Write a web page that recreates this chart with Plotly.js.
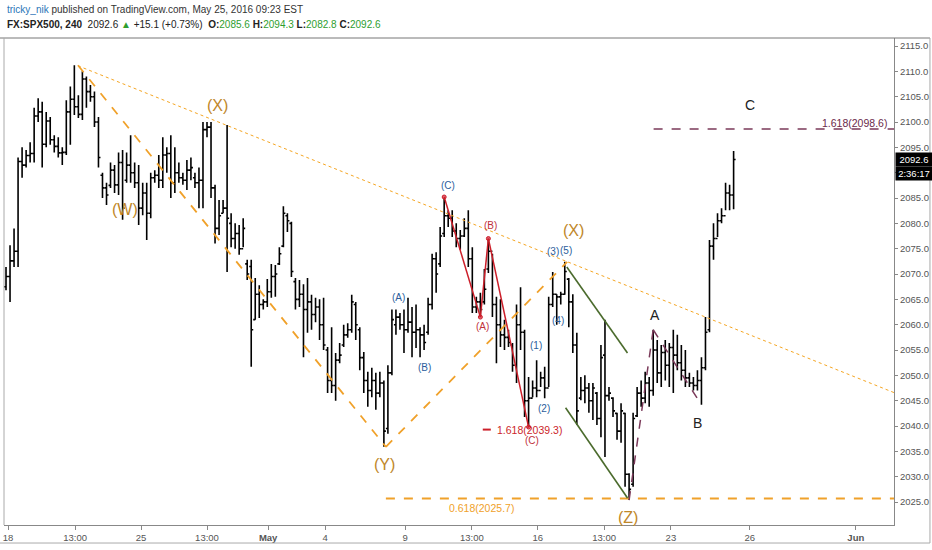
<!DOCTYPE html>
<html><head><meta charset="utf-8">
<script src="https://cdn.plot.ly/plotly-3.0.1.min.js"></script>
<style>html,body{margin:0;padding:0;background:#fff;}#chart{width:932px;height:550px;}</style>
</head><body><div id="chart"></div>
<script>
// ---- data: FX:SPX500 240-minute bars ----
const opens = [2067.5,2069.5,2072.6,2074.5,2092.2,2091.5,2093.4,2093.8,2101.2,2102.0,2095.6,2100.2,2096.5,2095.2,2093.9,2094.0,2102.0,2104.5,2103.0,2101.5,2108.5,2106.0,2105.0,2100.0,2089.5,2087.0,2087.5,2090.5,2087.6,2092.0,2088.5,2091.5,2090.0,2088.0,2083.0,2086.0,2082.0,2089.0,2089.5,2088.5,2093.5,2093.8,2088.0,2090.0,2089.0,2088.5,2090.5,2089.0,2088.0,2088.5,2098.5,2099.0,2087.0,2079.0,2082.0,2083.0,2080.0,2077.0,2078.0,2075.0,2072.0,2071.5,2061.0,2066.0,2064.0,2064.5,2066.5,2069.5,2072.0,2075.5,2081.5,2080.0,2068.5,2065.0,2066.0,2063.0,2064.5,2062.0,2063.5,2060.0,2055.0,2049.0,2048.0,2053.0,2056.0,2058.0,2059.0,2064.0,2059.0,2053.5,2049.0,2047.0,2049.0,2046.5,2048.5,2039.5,2050.5,2060.0,2061.5,2060.0,2059.0,2060.5,2058.5,2059.0,2058.0,2058.5,2064.0,2073.0,2072.0,2078.0,2081.5,2081.0,2078.5,2077.0,2077.5,2079.0,2073.0,2063.5,2064.5,2064.5,2071.0,2074.5,2064.0,2060.0,2058.0,2057.5,2056.0,2052.0,2060.0,2058.5,2045.0,2045.5,2047.5,2047.0,2049.5,2047.5,2064.0,2066.0,2065.5,2066.0,2069.0,2064.5,2056.0,2045.5,2047.0,2047.5,2045.0,2046.5,2041.5,2054.0,2046.0,2045.5,2042.5,2039.0,2042.5,2030.5,2028.5,2042.0,2046.5,2045.5,2048.5,2047.0,2055.0,2050.5,2054.5,2052.0,2055.5,2054.0,2052.5,2051.0,2049.5,2048.5,2048.0,2049.0,2051.5,2059.0,2075.5,2077.0,2080.5,2081.5,2086.0,2085.6];
const highs = [2071.4,2075.7,2079.0,2093.0,2095.0,2094.5,2096.0,2102.8,2104.7,2104.0,2102.0,2101.0,2097.4,2097.0,2095.0,2104.3,2107.0,2111.2,2105.3,2110.0,2109.0,2107.3,2106.0,2101.0,2090.0,2088.0,2092.0,2091.5,2094.0,2094.5,2094.0,2097.4,2092.0,2091.5,2088.0,2088.0,2090.0,2090.5,2093.5,2097.0,2095.0,2097.4,2095.0,2092.0,2090.0,2092.5,2093.0,2090.0,2091.0,2100.0,2100.0,2100.0,2087.6,2084.6,2084.6,2099.4,2082.0,2080.0,2079.7,2081.0,2072.8,2072.8,2069.2,2067.8,2065.0,2069.0,2072.0,2071.8,2075.3,2083.4,2082.0,2080.3,2069.2,2068.8,2068.0,2069.2,2065.9,2065.3,2065.0,2065.3,2055.6,2059.5,2054.4,2056.4,2060.0,2060.3,2065.9,2064.5,2059.5,2054.6,2050.7,2051.5,2050.5,2050.7,2049.0,2052.0,2063.0,2063.0,2062.3,2063.0,2065.3,2063.5,2064.0,2059.5,2060.0,2065.3,2074.0,2074.3,2079.3,2085.2,2082.6,2082.6,2080.0,2078.7,2081.0,2082.6,2075.3,2065.5,2066.3,2071.0,2077.0,2074.0,2065.5,2065.0,2061.0,2059.0,2056.4,2064.0,2067.4,2059.0,2049.7,2049.0,2053.0,2050.7,2051.7,2065.5,2070.4,2066.0,2066.5,2072.4,2069.2,2066.0,2058.4,2049.7,2050.0,2048.5,2048.5,2046.7,2056.0,2061.0,2047.7,2045.7,2042.6,2044.5,2042.6,2030.7,2042.6,2047.7,2049.0,2050.7,2049.7,2059.0,2057.0,2056.0,2057.0,2056.4,2059.0,2058.0,2056.0,2055.0,2050.5,2049.7,2051.0,2053.6,2061.5,2076.7,2080.0,2082.0,2083.0,2088.0,2087.6,2094.3];
const lows = [2066.8,2064.5,2071.4,2071.4,2089.0,2091.0,2092.0,2092.0,2100.0,2091.0,2095.0,2095.5,2094.0,2093.0,2091.5,2093.5,2095.5,2101.4,2100.8,2100.4,2102.8,2104.0,2099.0,2091.0,2085.0,2083.6,2087.0,2086.0,2085.6,2080.7,2088.0,2088.0,2087.0,2079.7,2081.6,2076.7,2081.0,2088.0,2087.0,2087.0,2090.0,2085.0,2086.0,2088.0,2087.6,2086.6,2088.5,2087.0,2083.0,2083.0,2097.0,2085.0,2076.0,2077.7,2082.0,2070.4,2075.3,2075.0,2073.8,2075.3,2068.8,2051.7,2061.0,2061.3,2063.0,2063.5,2065.3,2065.5,2071.8,2075.3,2078.3,2069.4,2063.0,2063.5,2053.6,2058.4,2059.0,2060.5,2057.0,2055.0,2046.5,2046.5,2045.0,2052.4,2055.6,2057.4,2058.4,2057.0,2051.0,2046.5,2043.8,2045.7,2043.2,2045.7,2035.9,2038.5,2050.0,2058.0,2059.0,2054.4,2058.4,2053.6,2055.4,2053.6,2055.0,2058.0,2063.0,2066.3,2071.4,2077.3,2079.3,2077.3,2075.3,2074.8,2077.3,2071.4,2062.3,2062.3,2061.5,2064.0,2070.2,2061.5,2052.4,2055.6,2055.0,2055.6,2050.7,2048.5,2055.0,2041.8,2039.8,2045.7,2045.7,2047.7,2045.5,2047.7,2063.5,2060.0,2064.0,2065.9,2059.5,2054.4,2040.2,2045.1,2044.5,2042.6,2041.2,2040.2,2037.8,2033.9,2045.0,2041.8,2037.3,2036.7,2028.0,2025.4,2028.0,2041.8,2043.8,2044.5,2043.8,2046.0,2048.5,2047.7,2049.0,2047.7,2046.5,2051.0,2049.0,2047.7,2047.7,2047.0,2047.0,2044.2,2051.0,2058.5,2072.8,2077.3,2080.0,2082.6,2082.6,2082.8];
const closes = [2069.5,2072.6,2074.5,2092.2,2091.5,2093.4,2093.8,2101.2,2102.0,2095.6,2100.2,2096.5,2095.2,2093.9,2094.0,2102.0,2104.5,2103.0,2101.5,2108.5,2106.0,2105.0,2100.0,2093.0,2087.0,2085.6,2090.5,2087.6,2092.0,2083.0,2091.5,2090.0,2088.0,2083.0,2086.0,2082.0,2089.0,2089.5,2088.5,2093.5,2093.8,2088.0,2090.0,2089.0,2088.5,2090.5,2091.0,2088.0,2088.5,2098.5,2099.0,2087.0,2079.0,2081.5,2083.0,2081.0,2077.0,2078.0,2075.0,2079.0,2070.0,2059.0,2066.0,2064.0,2064.5,2066.5,2069.5,2070.0,2074.0,2082.0,2080.5,2070.5,2065.0,2066.0,2063.0,2064.5,2062.0,2063.5,2060.0,2056.0,2049.0,2048.0,2053.0,2054.0,2058.0,2059.0,2064.5,2060.0,2053.5,2049.0,2047.0,2049.0,2046.5,2048.5,2039.0,2050.5,2061.0,2061.5,2060.0,2059.0,2060.5,2058.5,2059.0,2058.0,2056.5,2064.0,2073.0,2070.0,2077.5,2081.5,2081.0,2078.5,2077.0,2077.5,2079.0,2073.0,2063.5,2064.5,2063.0,2067.0,2074.5,2064.0,2060.0,2058.0,2057.5,2056.5,2052.0,2060.0,2058.5,2045.0,2045.5,2047.5,2047.0,2049.5,2047.5,2064.0,2066.0,2065.5,2066.0,2070.5,2064.5,2056.0,2043.0,2047.0,2047.5,2045.0,2047.5,2041.5,2053.5,2046.0,2046.5,2043.0,2039.0,2043.0,2030.5,2027.5,2041.5,2046.5,2045.5,2048.5,2047.0,2055.0,2050.5,2054.5,2052.0,2055.5,2054.0,2052.5,2051.0,2049.5,2048.5,2048.0,2049.0,2051.5,2058.5,2075.5,2077.0,2080.5,2081.5,2086.0,2085.6,2092.6];

// x-axis tick labels (session starts, by bar position)
const tickIdx  = [0.5, 17.2, 33.6, 50, 65.2, 79.4, 99.3, 115.9, 132.3, 148.8, 165.4, 185, 211.4];
const tickText = ['18','13:00','25','13:00','<b>May</b>','4','9','13:00','16','13:00','23','26','<b>Jun</b>'];

// Elliott-wave pivots (bar index into the arrays above)
const wxyPivots   = [17, 94, 139];      // top high, (Y) low, (X) high
const redPivots   = [109, 118, 120, 130];
const abPivots    = [155, 161, 173];    // (Z) low, A high, B low
const fib0618 = 2025.7, fib1618red = 2039.3, fib1618up = 2098.6;
const lastPrice = 2092.6;

const bars = closes.map((_, i) => i);
const XMAX = 220.9, XMIN = -0.5;

const ORANGE = '#f0a12a', WAVE = '#c08729', BLUE = '#2b5d9c', RED = '#cc1f2a', GREEN = '#4b6b2d', MAROON = '#7b3a5a';
const NARROW = 'Liberation Sans, Arial, sans-serif';

const trace = {
  type: 'ohlc', x: bars, open: opens, high: highs, low: lows, close: closes,
  increasing: {line: {color: '#000', width: 1.6}},
  decreasing: {line: {color: '#000', width: 1.6}},
  tickwidth: 0.5, hoverinfo: 'skip', showlegend: false
};

const hi = i => highs[i], lo = i => lows[i];
const shapes = [];
function seg(x0, y0, x1, y1, color, width, dash) {
  shapes.push({type: 'line', xref: 'x', yref: 'y', x0, y0, x1, y1, line: {color, width, dash}});
}
// dotted trend line from the top
seg(wxyPivots[0] + 0.9, hi(wxyPivots[0]) - 0.1, XMAX, 2046.6, '#f5a623', 1, 'dot');
// W-X-Y / X dashed
seg(wxyPivots[0] + 0.9, hi(wxyPivots[0]), wxyPivots[1] + 0.5, lo(wxyPivots[1]), ORANGE, 1.8, 'dash');
seg(wxyPivots[1] + 0.5, lo(wxyPivots[1]), wxyPivots[2] + 0.6, hi(wxyPivots[2]), ORANGE, 1.8, 'dash');
// 0.618 level
seg(wxyPivots[1] + 0.5, fib0618, XMAX, fib0618, ORANGE, 2, 'dash');
// red ABC
const rp = [[redPivots[0], hi(redPivots[0])], [redPivots[1], lo(redPivots[1])], [redPivots[2], hi(redPivots[2])], [redPivots[3], lo(redPivots[3])]];
for (let k = 0; k < rp.length - 1; k++) seg(rp[k][0], rp[k][1], rp[k+1][0], rp[k+1][1], RED, 1.5, 'solid');
seg(118.6, fib1618red, 120.6, fib1618red, RED, 2, 'solid');
// green channel
seg(139.5, 2071.4, 154.6, 2054.4, GREEN, 1.6, 'solid');
seg(139.2, 2043.6, 154.6, 2025.8, GREEN, 1.6, 'solid');
// maroon A-B dashed
seg(abPivots[0], lo(abPivots[0]), abPivots[1], hi(abPivots[1]), MAROON, 1.5, 'dash');
seg(abPivots[1], hi(abPivots[1]), abPivots[2], lo(abPivots[2]), MAROON, 1.5, 'dash');
// 1.618 upper target
seg(161.1, fib1618up, XMAX, fib1618up, MAROON, 1.5, 'dash');
// frame lines
shapes.push({type:'line', xref:'paper', yref:'paper', x0:-0.0045, x1:1.0404, y0:1, y1:1, line:{color:'#777', width:1}});
shapes.push({type:'line', xref:'paper', yref:'paper', x0:0, x1:0, y0:0, y1:1, line:{color:'#aaa', width:1}});
shapes.push({type:'line', xref:'paper', yref:'paper', x0:1.0404, x1:1.0404, y0:-0.037, y1:1, line:{color:'#aaa', width:1}});
shapes.push({type:'line', xref:'paper', yref:'paper', x0:-0.0045, x1:1.0404, y0:-0.037, y1:-0.037, line:{color:'#aaa', width:1}});
// red vertex dots
const dots = {type:'scatter', mode:'markers', x: rp.map(p=>p[0]), y: rp.map(p=>p[1]), marker:{size:4, color:'#e06070', line:{color:RED, width:1}}, hoverinfo:'skip', showlegend:false};

const ann = [];
function lab(x, y, text, color, size, extra) {
  ann.push(Object.assign({xref:'x', yref:'y', x, y, text, showarrow:false, font:{family:'Liberation Sans, Arial, sans-serif', size, color}}, extra||{}));
}
lab(29.6, 2082.8, '(W)', WAVE, 16);
lab(52.5, 2103.2, '(X)', WAVE, 16);
lab(94.2, 2032.5, '(Y)', WAVE, 16);
lab(141.2, 2078.6, '(X)', WAVE, 16);
lab(154.7, 2022.0, '(Z)', WAVE, 16);
lab(109.9, 2087.4, '(C)', BLUE, 10);
lab(97.7, 2065.3, '(A)', BLUE, 10);
lab(104.2, 2051.5, '(B)', BLUE, 10);
lab(136.0, 2074.5, '(3)', BLUE, 10);
lab(139.4, 2074.7, '(5)', BLUE, 10);
lab(137.2, 2060.9, '(4)', BLUE, 10);
lab(131.8, 2055.8, '(1)', BLUE, 10);
lab(133.8, 2043.4, '(2)', BLUE, 10);
lab(120.6, 2079.5, '(B)', '#c0303a', 10);
lab(118.6, 2059.7, '(A)', '#c0303a', 10);
lab(130.8, 2037.2, '(C)', '#c0303a', 10);
lab(161.4, 2061.9, 'A', '#222', 14);
lab(172.1, 2040.6, 'B', '#222', 14);
lab(185.0, 2103.4, 'C', '#222', 14);
lab(121.6, fib1618red, '1.618(2039.3)', RED, 10.5, {xanchor:'left'});
lab(118.2, 2023.9, '0.618(2025.7)', ORANGE, 10.5);
lab(211.1, 2099.8, '1.618(2098.6)', '#6b2a4a', 10.5);
// price boxes on axis
ann.push({xref:'paper', yref:'y', x:1, y:lastPrice, xanchor:'left', xshift:1, width:36, height:13, text:'2092.6', showarrow:false, bgcolor:'#000', borderpad:0, font:{family:NARROW, size:9.5, color:'#fff'}});
ann.push({xref:'paper', yref:'y', x:1, y:2089.8, xanchor:'left', xshift:1, width:36, height:13, text:'2:36:17', showarrow:false, bgcolor:'#000', borderpad:0, font:{family:NARROW, size:9.5, color:'#fff'}});
// header
const G = '#2e9e2e';
ann.push({xref:'paper', yref:'paper', x:0.001, y:1.0575, xanchor:'left', yanchor:'middle', showarrow:false, align:'left',
  text:"<span style='color:#2a76b8'>tricky_nik</span> published on TradingView.com, May 25, 2016 09:23 EST",
  font:{family:NARROW, size:10, color:'#333'}});
ann.push({xref:'paper', yref:'paper', x:0.001, y:1.027, xanchor:'left', yanchor:'middle', showarrow:false, align:'left',
  text:"<b>FX:SPX500, 240</b>  2092.6 <span style='color:"+G+"'>▲</span> +15.1 (+0.73%)  <b>O:</b><span style='color:"+G+"'>2085.6</span> <b>H:</b><span style='color:"+G+"'>2094.3</span> <b>L:</b><span style='color:"+G+"'>2082.8</span> <b>C:</b><span style='color:"+G+"'>2092.6</span>",
  font:{family:NARROW, size:10, color:'#222'}});

const layout = {
  width: 932, height: 550,
  margin: {l: 4, r: 38, t: 38, b: 25},
  paper_bgcolor: '#fff', plot_bgcolor: '#fff',
  showlegend: false,
  xaxis: {type:'linear', range:[XMIN, XMAX], tickvals: tickIdx, ticktext: tickText, showgrid:false, zeroline:false,
    showline:true, linecolor:'#888', linewidth:1, ticks:'outside', ticklen:4, tickcolor:'#888',
    tickfont:{family:NARROW, size:9.5, color:'#555'},
    rangeslider:{visible:false}, fixedrange:true},
  yaxis: {side:'right', range:[2020.47, 2116.58], tickmode:'linear', tick0:2025, dtick:5, tickformat:'.1f',
    showgrid:false, zeroline:false, showline:true, linecolor:'#888', linewidth:1, ticks:'outside', ticklen:3, tickcolor:'#888',
    tickfont:{family:NARROW, size:9.5, color:'#555'}, fixedrange:true},
  shapes, annotations: ann
};
Plotly.newPlot('chart', [trace, dots], layout, {staticPlot:true, displayModeBar:false});
</script></body></html>
